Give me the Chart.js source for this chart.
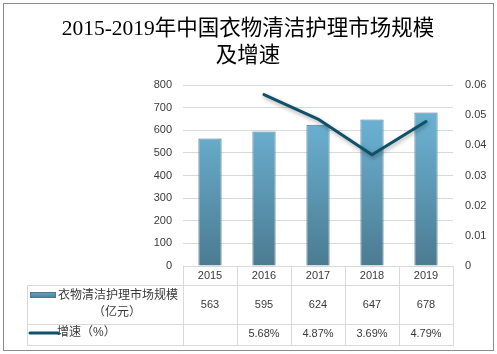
<!DOCTYPE html>
<html><head><meta charset="utf-8">
<script src="https://cdn.jsdelivr.net/npm/chart.js@4/dist/chart.umd.min.js"></script>
<style>html,body{margin:0;padding:0;background:#fff}#c{display:block}</style>
</head><body>
<canvas id="c" width="497" height="354"></canvas>
<script>
const categories = ['2015', '2016', '2017', '2018', '2019'];
const marketSize = [563, 595, 624, 647, 678];
const growthRate = [null, 0.0568, 0.0487, 0.0369, 0.0479];
const titleLines = ['2015-2019年中国衣物清洁护理市场规模', '及增速'];
const seriesNames = ['衣物清洁护理市场规模', '（亿元）', '增速（%）'];

const SANS = "'Liberation Sans', 'Noto Sans CJK SC', sans-serif";
const TXT = '#3a3a3a';
const GRID = '#d9d9d9';
const LINE = '#0e5168';

function barGradient(ctx, top, bottom) {
  const g = ctx.createLinearGradient(0, top, 0, bottom);
  g.addColorStop(0, '#6aafd0');
  g.addColorStop(1, '#4b7b91');
  return g;
}

const decor = {
  id: 'decor',
  beforeDatasetDraw(chart, args) {
    if (args.index === 1) {
      const c = chart.ctx; c.save();
      c.shadowColor = 'rgba(0,0,0,0.35)'; c.shadowBlur = 4; c.shadowOffsetX = 1; c.shadowOffsetY = 2;
    }
  },
  afterDatasetDraw(chart, args) {
    if (args.index === 1) chart.ctx.restore();
  },
  afterDraw(chart) {
    const c = chart.ctx, a = chart.chartArea, xs = chart.scales.x;
    c.save();
    // outer frame
    c.strokeStyle = '#8c8c8c'; c.lineWidth = 1;
    c.strokeRect(3.5, 3.5, 490, 347);
    // title
    c.fillStyle = '#000'; c.textAlign = 'center'; c.textBaseline = 'middle';
    c.font = "21.5px 'Liberation Serif', 'Noto Sans CJK SC', serif";
    c.fillText(titleLines[0], 248, 29);
    c.fillText(titleLines[1], 248, 56);
    // table
    const n = categories.length, w = (a.right - a.left) / n;
    const y0 = a.bottom, y1 = 285, y2 = 324, y3 = 345, xl = 27;
    c.strokeStyle = GRID; c.lineWidth = 1;
    c.beginPath();
    for (let i = 0; i <= n; i++) {
      const x = Math.round(a.left + i * w) + 0.5;
      c.moveTo(x, y0); c.lineTo(x, y3);
    }
    c.moveTo(xl + 0.5, y1); c.lineTo(xl + 0.5, y3);
    [y1, y2, y3].forEach(y => { c.moveTo(xl, y + 0.5); c.lineTo(a.right + 1, y + 0.5); });
    c.stroke();
    c.fillStyle = TXT; c.font = '11px ' + SANS;
    categories.forEach((cat, i) => {
      const x = xs.getPixelForValue(i);
      c.fillText(cat, x, 276);
      c.fillText(String(marketSize[i]), x, 305);
      if (growthRate[i] != null) c.fillText((growthRate[i] * 100).toFixed(2) + '%', x, 334);
    });
    // legend keys
    c.fillStyle = barGradient(c, 291, 298);
    c.fillRect(30, 292, 26, 6);
    c.strokeStyle = '#4a7a90'; c.strokeRect(30.5, 292.5, 25, 5);
    c.strokeStyle = LINE; c.lineWidth = 3; c.lineCap = 'round';
    c.beginPath(); c.moveTo(30, 333); c.lineTo(58, 333); c.stroke();
    c.fillStyle = TXT; c.textAlign = 'left'; c.font = '12px ' + SANS;
    c.fillText(seriesNames[0], 58, 296);
    c.textAlign = 'center';
    c.fillText(seriesNames[1], 117, 313);
    c.textAlign = 'left';
    c.fillText(seriesNames[2], 57, 333);
    c.restore();
  }
};

new Chart(document.getElementById('c'), {
  data: {
    labels: categories,
    datasets: [
      {
        type: 'bar', label: seriesNames[0] + seriesNames[1], data: marketSize, yAxisID: 'y', order: 2,
        backgroundColor: (ctx) => { const a = ctx.chart.chartArea; if (!a) return '#5b95b1'; return barGradient(ctx.chart.ctx, a.top + 40, a.bottom); },
        borderColor: '#4a7a90', borderWidth: 1, categoryPercentage: 0.43, barPercentage: 1
      },
      {
        type: 'line', label: seriesNames[2], data: growthRate, yAxisID: 'y1', order: 1,
        borderColor: LINE, borderWidth: 3, pointRadius: 0, tension: 0,
        borderCapStyle: 'round', borderJoinStyle: 'round', spanGaps: false
      }
    ]
  },
  options: {
    responsive: false, animation: false, devicePixelRatio: 1,
    layout: { padding: { top: 85, bottom: 88, left: 0, right: 0 } },
    plugins: { legend: { display: false }, tooltip: { enabled: false }, title: { display: false } },
    scales: {
      x: { display: false, offset: true },
      y: {
        position: 'left', min: 0, max: 800,
        ticks: { stepSize: 100, color: TXT, font: { family: SANS, size: 11 }, padding: 11 },
        grid: { color: GRID, drawTicks: false }, border: { display: false },
        afterFit: s => { s.width = 183; }
      },
      y1: {
        position: 'right', min: 0, max: 0.06,
        ticks: { stepSize: 0.01, color: TXT, font: { family: SANS, size: 11 }, padding: 12,
          callback: v => v === 0 ? '0' : v.toFixed(2) },
        grid: { drawOnChartArea: false, drawTicks: false }, border: { display: false },
        afterFit: s => { s.width = 44; }
      }
    }
  },
  plugins: [decor]
});
</script>
</body></html>
